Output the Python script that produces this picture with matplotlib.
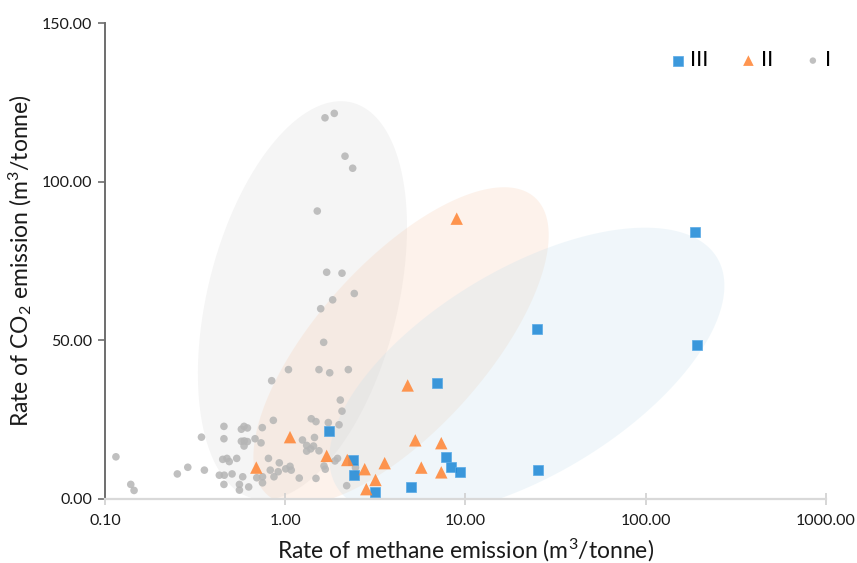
import numpy as np
import matplotlib
matplotlib.use("Agg")
import matplotlib.pyplot as plt
from matplotlib.patches import Polygon
from matplotlib.ticker import FixedLocator, FormatStrFormatter, NullLocator

plt.rcParams['font.family'] = ['Lato', 'DejaVu Sans']
plt.rcParams['mathtext.fontset'] = 'custom'
plt.rcParams['mathtext.rm'] = 'Lato'
plt.rcParams['mathtext.it'] = 'Lato:italic'

# --- data ---
# group I (grey circles): methane rate, CO2 rate
i_ch4 = [0.115, 0.139, 0.145, 0.252, 0.288, 0.343, 0.356, 0.457, 0.457, 0.431,
         0.459, 0.457, 0.450, 0.475, 0.489, 0.507, 0.538, 0.557, 0.557, 0.571,
         0.591, 0.617, 0.571, 0.593, 0.617, 0.591, 0.581, 0.627, 0.680, 0.695,
         0.748, 0.748, 0.734, 0.746, 0.841, 0.859, 0.807, 0.826, 0.866, 0.914,
         0.927, 1.006, 1.063, 1.080, 1.042, 1.196, 1.246, 1.315, 1.315, 1.384,
         1.435, 1.453, 1.539, 1.481, 1.395, 1.481, 1.539, 1.765, 2.239, 1.734,
         1.988, 1.641, 1.668, 1.888, 1.950, 2.021, 2.065, 2.193, 2.453, 1.634,
         1.662, 1.871, 2.146, 2.367, 1.506, 1.698, 2.065, 2.416, 1.833, 1.573]
i_co2 = [13.3, 4.6, 2.7, 7.9, 10.0, 19.5, 9.1, 22.9, 19.0, 7.5,
         7.5, 4.6, 12.5, 12.8, 11.8, 7.9, 12.8, 4.6, 2.8, 22.0,
         22.9, 22.4, 18.2, 18.3, 18.1, 16.7, 7.0, 3.8, 19.0, 6.7,
         7.0, 5.1, 17.7, 22.5, 37.3, 24.8, 12.8, 9.1, 7.0, 8.6,
         11.4, 9.5, 10.3, 9.1, 40.8, 6.6, 18.6, 16.9, 15.1, 15.8,
         16.7, 19.4, 15.2, 6.5, 25.3, 24.4, 40.8, 39.8, 40.8, 24.1,
         23.4, 10.4, 9.4, 12.0, 12.8, 31.2, 27.7, 4.2, 9.9, 49.4,
         120.2, 121.6, 108.1, 104.3, 90.8, 71.5, 71.2, 64.8, 62.8, 60.0]

# group II (orange triangles)
ii_ch4 = [0.691, 1.063, 1.698, 2.209, 2.760, 3.562, 3.168, 2.817, 4.779, 5.267,
          7.341, 5.687, 7.341, 8.94]
ii_co2 = [9.9, 19.5, 13.6, 12.3, 9.4, 11.3, 6.0, 3.1, 35.8, 18.5,
          17.6, 9.9, 8.4, 88.4]

# group III (blue squares)
iii_ch4 = [1.755, 2.385, 2.406, 3.168, 4.966, 6.923, 7.780, 8.277, 9.299, 24.83,
           25.15, 187.6, 191.8]
iii_co2 = [21.5, 12.4, 7.5, 2.3, 3.7, 36.5, 13.2, 10.0, 8.5, 53.7,
           9.1, 84.1, 48.5]

x_ticks = [0.1, 1, 10, 100, 1000]
y_ticks = [0, 50, 100, 150]

# shaded group ellipses: centre (data), semi-axes in pixels, tilt in degrees
ellipses = [
    ((1.246, 62.6), 204, 95, 76, '#d9d9d9', 0.26),
    ((4.39, 48.2), 200, 84, 48, '#f8cbad', 0.24),
    ((21.9, 40.0), 222, 103, 31, '#c5e0ee', 0.26),
]

fig = plt.figure(figsize=(8.57, 5.63), dpi=100)
ax = fig.add_axes([0.1225, 0.1137, 0.8413, 0.8449])
ax.set_xscale('log')
ax.set_xlim(0.1, 1000)
ax.set_ylim(0, 150)


def add_ellipse(ax, centre, a, b, angle, color, alpha):
    # build the outline in screen pixels so the tilt looks right on the log axis
    cx, cy = ax.transData.transform(centre)
    t = np.linspace(0, 2 * np.pi, 200)
    th = np.radians(angle)
    px = cx + a * np.cos(t) * np.cos(th) - b * np.sin(t) * np.sin(th)
    py = cy + a * np.cos(t) * np.sin(th) + b * np.sin(t) * np.cos(th)
    pts = ax.transData.inverted().transform(np.column_stack([px, py]))
    ax.add_patch(Polygon(pts, closed=True, facecolor=color, edgecolor='none',
                         alpha=alpha, zorder=1))


for centre, a, b, ang, col, al in ellipses:
    add_ellipse(ax, centre, a, b, ang, col, al)

ax.scatter(iii_ch4, iii_co2, marker='s', s=62, color='#1a87d6', alpha=0.85,
           edgecolors='#5aaae6', linewidths=0.6, zorder=3, label='III')
ax.scatter(ii_ch4, ii_co2, marker='^', s=80, color='#ff8a3d', alpha=0.9,
           edgecolors='none', zorder=4, label='II')
ax.scatter(i_ch4, i_co2, marker='o', s=30, color='#b5b5b5', alpha=0.85,
           edgecolors='none', zorder=2, label='I')

ax.xaxis.set_major_locator(FixedLocator(x_ticks))
ax.xaxis.set_minor_locator(NullLocator())
ax.xaxis.set_major_formatter(FormatStrFormatter('%.2f'))
ax.yaxis.set_major_locator(FixedLocator(y_ticks))
ax.yaxis.set_major_formatter(FormatStrFormatter('%.2f'))

for side in ['top', 'right']:
    ax.spines[side].set_visible(False)
ax.spines['left'].set_color('#6e6e6e')
ax.spines['left'].set_linewidth(1.4)
ax.spines['bottom'].set_color('#d9d9d9')
ax.spines['bottom'].set_linewidth(1.6)

ax.tick_params(axis='y', direction='out', length=5, width=1.2, color='#6e6e6e',
               labelsize=11.5, pad=4, labelcolor='#1a1a1a')
ax.tick_params(axis='x', direction='inout', length=9, width=1.2, color='#cfcfcf',
               labelsize=11.5, pad=6, labelcolor='#1a1a1a')

ax.set_xlabel('Rate of methane emission (m$^3$/tonne)', fontsize=16.5, labelpad=7,
              color='#1a1a1a')
ax.set_ylabel('Rate of CO$_2$ emission (m$^3$/tonne)', fontsize=16.5, labelpad=6,
              color='#1a1a1a')

leg = ax.legend(loc='upper right', bbox_to_anchor=(1.035, 0.985), ncol=3,
                frameon=False, fontsize=16, handletextpad=0.05,
                columnspacing=1.3, handlelength=1.0, markerscale=0.85)

fig.savefig('out.png', dpi=100)
